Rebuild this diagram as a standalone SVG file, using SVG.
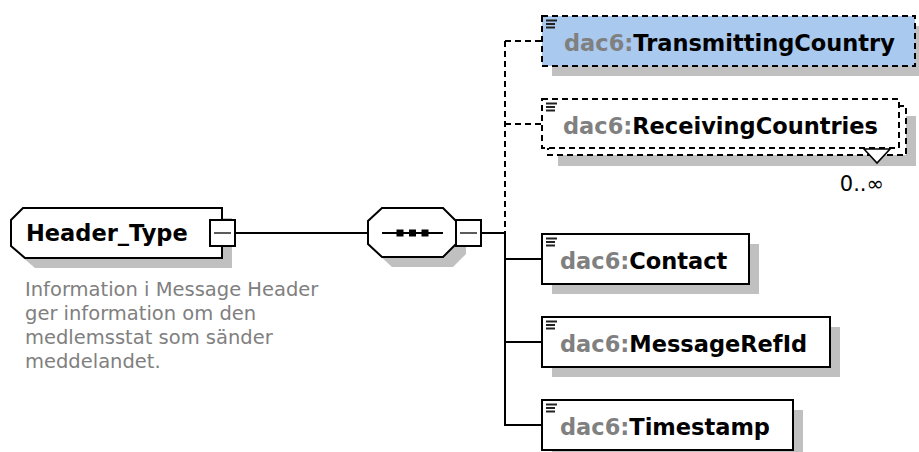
<svg xmlns="http://www.w3.org/2000/svg" width="919" height="452" viewBox="0 0 919 452">
<style>
.bg{fill:#fff}
.shadow{fill:#c0c0c0}
.box{fill:#fff;stroke:#000;stroke-width:2}
.opt{fill:#fff;stroke:#000;stroke-width:2;stroke-dasharray:6 4}
.sel{fill:#a9c9ef}
.conn{stroke:#000;stroke-width:2;fill:none}
.dash{stroke-dasharray:6 4}
.lbl{font-family:"DejaVu Sans","Liberation Sans",sans-serif;font-weight:bold;font-size:22.5px}
.pre{fill:#808080}
.nm{fill:#000}
.desc{font-family:"DejaVu Sans","Liberation Sans",sans-serif;font-size:19.5px;fill:#808080}
.occ{font-family:"DejaVu Sans","Liberation Sans",sans-serif;font-size:21px;fill:#000}
.icon{stroke:#222;stroke-width:2}
</style>
<defs>
<g id="docicon" class="icon">
<line x1="4" y1="4.5" x2="15" y2="4.5"/>
<line x1="4" y1="8" x2="13" y2="8"/>
<line x1="4" y1="11.5" x2="13" y2="11.5"/>
</g>
</defs>
<rect class="bg" x="0" y="0" width="919" height="452"/>

<g id="connectors">
<line class="conn" x1="235" y1="233" x2="368" y2="233"/>
<line class="conn" x1="481" y1="233" x2="505" y2="233"/>
<line class="conn dash" x1="505" y1="41" x2="505" y2="233"/>
<line class="conn" x1="505" y1="233" x2="505" y2="426"/>
<line class="conn dash" x1="505" y1="41" x2="542" y2="41"/>
<line class="conn dash" x1="505" y1="124" x2="542" y2="124"/>
<line class="conn" x1="504" y1="259" x2="542" y2="259"/>
<line class="conn" x1="504" y1="342" x2="542" y2="342"/>
<line class="conn" x1="504" y1="425" x2="542" y2="425"/>
</g>

<g id="header_type">
<polygon class="shadow" points="33,218 232,218 232,268 35,268 21,256 21,230"/>
<polygon class="box" points="23,208 222,208 222,258 25,258 11,246 11,220"/>
<text class="lbl nm" x="26" y="241">Header_Type</text>
<rect x="210" y="220" width="25" height="26" fill="#fff" stroke="#000" stroke-width="2"/>
<line x1="214" y1="233" x2="231" y2="233" stroke="#333" stroke-width="1.6"/>
<text class="desc" x="25" y="296">Information i Message Header</text>
<text class="desc" x="25" y="320">ger information om den</text>
<text class="desc" x="25" y="344">medlemsstat som sänder</text>
<text class="desc" x="25" y="368">meddelandet.</text>
</g>

<g id="sequence">
<polygon class="shadow" points="392,218 453,218 466,231 466,254 453,267 392,267 378,254 378,231"/>
<polygon class="box" points="382,208 443,208 456,221 456,244 443,257 382,257 368,244 368,221"/>
<line x1="382" y1="233" x2="443" y2="233" stroke="#000" stroke-width="2"/>
<rect x="396.5" y="229.5" width="7" height="7" fill="#000"/>
<rect x="409" y="229.5" width="7" height="7" fill="#000"/>
<rect x="421.5" y="229.5" width="7" height="7" fill="#000"/>
<rect x="456" y="220" width="25" height="26" fill="#fff" stroke="#000" stroke-width="2"/>
<line x1="460" y1="233" x2="477" y2="233" stroke="#333" stroke-width="1.6"/>
</g>

<g id="transmitting_country">
<rect class="shadow" x="552" y="26" width="367" height="50"/>
<rect class="sel" x="542" y="16" width="373" height="50"/>
<rect x="542" y="16" width="373" height="50" fill="none" stroke="#000" stroke-width="2" stroke-dasharray="6 4"/>
<use href="#docicon" x="542" y="16"/>
<text class="lbl" x="564" y="51"><tspan class="pre">dac6:</tspan><tspan class="nm">TransmittingCountry</tspan></text>
</g>

<g id="receiving_countries">
<rect class="shadow" x="558" y="116" width="358" height="50"/>
<rect class="opt" x="548" y="106" width="358" height="49"/>
<rect class="opt" x="542" y="99" width="357" height="49"/>
<use href="#docicon" x="542" y="99"/>
<text class="lbl" x="563" y="134"><tspan class="pre">dac6:</tspan><tspan class="nm">ReceivingCountries</tspan></text>
<polygon points="864,149 877,163 890,149" fill="#fff" stroke="#000" stroke-width="1.6"/>
<text class="occ" x="884" y="191" text-anchor="end">0..∞</text>
</g>

<g id="contact">
<rect class="shadow" x="552" y="244" width="207" height="50"/>
<rect class="box" x="542" y="234" width="207" height="50"/>
<use href="#docicon" x="542" y="234"/>
<text class="lbl" x="560" y="269"><tspan class="pre">dac6:</tspan><tspan class="nm">Contact</tspan></text>
</g>

<g id="message_ref_id">
<rect class="shadow" x="552" y="327" width="288" height="50"/>
<rect class="box" x="542" y="317" width="288" height="50"/>
<use href="#docicon" x="542" y="317"/>
<text class="lbl" x="560" y="352"><tspan class="pre">dac6:</tspan><tspan class="nm">MessageRefId</tspan></text>
</g>

<g id="timestamp">
<rect class="shadow" x="552" y="410" width="251" height="50"/>
<rect class="box" x="542" y="400" width="251" height="50"/>
<use href="#docicon" x="542" y="400"/>
<text class="lbl" x="560" y="435"><tspan class="pre">dac6:</tspan><tspan class="nm">Timestamp</tspan></text>
</g>
</svg>
